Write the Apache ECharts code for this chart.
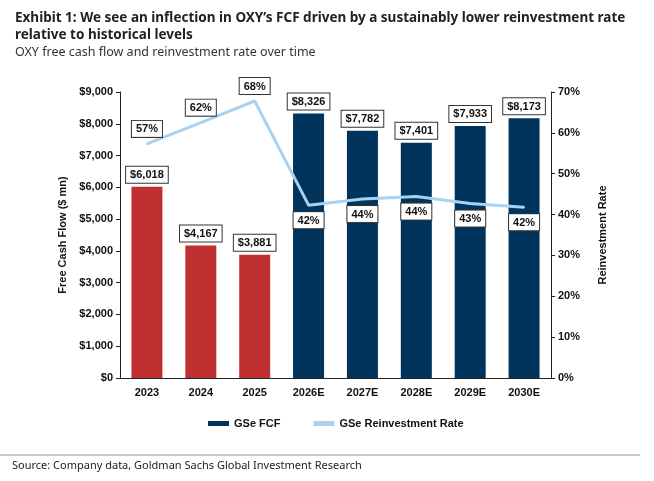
<!DOCTYPE html>
<html>
<head>
<meta charset="utf-8">
<script src="https://cdn.jsdelivr.net/npm/echarts@6/dist/echarts.min.js"></script>
<style>
  html, body { margin: 0; padding: 0; background: #fff; }
  #main { width: 654px; height: 481px; }
</style>
</head>
<body>
<div id="main"></div>
<script>
var years = ['2023', '2024', '2025', '2026E', '2027E', '2028E', '2029E', '2030E'];
var fcf = [6018, 4167, 3881, 8326, 7782, 7401, 7933, 8173];
var reinvest = [57.3, 62.5, 67.8, 42.3, 43.8, 44.4, 42.7, 41.8];
var reinvestLabels = ['57%', '62%', '68%', '42%', '44%', '44%', '43%', '42%'];
var labelAbove = [true, true, true, false, false, false, false, false];
var actualCount = 3;

var chartDom = document.getElementById('main');
var myChart = echarts.init(chartDom);
var option;

var boxLabel = {
    show: true,
    backgroundColor: '#fff',
    borderColor: '#333',
    borderWidth: 1,
    padding: [3, 4, 2, 4],
    color: '#111',
    fontSize: 11,
    fontWeight: 'bold',
    fontFamily: 'Liberation Sans, Arial, sans-serif'
};

option = {
    animation: false,
    textStyle: { fontFamily: 'Liberation Sans, Arial, sans-serif' },
    title: {
        text: 'Exhibit 1: We see an inflection in OXY\u2019s FCF driven by a sustainably lower reinvestment rate\nrelative to historical levels',
        subtext: 'OXY free cash flow and reinvestment rate over time',
        left: 10,
        top: 5,
        itemGap: 2,
        textStyle: {
            fontFamily: 'Noto Sans',
            fontSize: 13.5,
            fontWeight: 'bold',
            color: '#222',
            lineHeight: 17
        },
        subtextStyle: {
            fontFamily: 'Noto Sans',
            fontSize: 12.5,
            color: '#333'
        }
    },
    legend: {
        left: 203,
        top: 413,
        itemWidth: 21,
        itemHeight: 5,
        itemGap: 33,
        textStyle: { fontSize: 11, fontWeight: 'bold', color: '#111' },
        data: [
            { name: 'GSe FCF', icon: 'rect' },
            { name: 'GSe Reinvestment Rate', icon: 'rect' }
        ]
    },
    grid: { left: 120, right: 103, top: 92, bottom: 103 },
    xAxis: {
        type: 'category',
        data: years,
        axisLine: { lineStyle: { color: '#222' } },
        axisTick: { show: false },
        axisLabel: { color: '#111', fontSize: 11, fontWeight: 'bold', margin: 9 }
    },
    yAxis: [
        {
            type: 'value',
            min: 0,
            max: 9000,
            interval: 1000,
            name: 'Free Cash Flow ($ mn)',
            nameLocation: 'middle',
            nameGap: 52,
            nameTextStyle: { fontSize: 11, fontWeight: 'bold', color: '#111' },
            axisLine: { show: true, lineStyle: { color: '#222' } },
            axisTick: { show: true, length: 4, lineStyle: { color: '#222' } },
            splitLine: { show: false },
            axisLabel: {
                color: '#111', fontSize: 11, fontWeight: 'bold', margin: 7,
                formatter: function (v) { return '$' + v.toLocaleString('en-US'); }
            }
        },
        {
            type: 'value',
            min: 0,
            max: 70,
            interval: 10,
            name: 'Reinvestment Rate',
            nameLocation: 'middle',
            nameGap: 46,
            nameTextStyle: { fontSize: 11, fontWeight: 'bold', color: '#111' },
            axisLine: { show: true, lineStyle: { color: '#222' } },
            axisTick: { show: true, length: 4, lineStyle: { color: '#222' } },
            splitLine: { show: false },
            axisLabel: {
                color: '#111', fontSize: 11, fontWeight: 'bold', margin: 7,
                formatter: '{value}%'
            }
        }
    ],
    series: [
        {
            name: 'GSe FCF',
            type: 'bar',
            barWidth: 31,
            itemStyle: { color: '#00345c' },
            data: fcf.map(function (v, i) {
                return i < actualCount ? { value: v, itemStyle: { color: '#c03030' } } : v;
            }),
            label: Object.assign({}, boxLabel, {
                position: 'top',
                distance: 4,
                formatter: function (p) { return '$' + p.value.toLocaleString('en-US'); }
            })
        },
        {
            name: 'GSe Reinvestment Rate',
            type: 'line',
            yAxisIndex: 1,
            symbol: 'circle',
            symbolSize: 2,
            showSymbol: true,
            z: 5,
            color: '#a9d2f0',
            itemStyle: { color: '#a9d2f0' },
            lineStyle: { color: '#a9d2f0', width: 3 },
            data: reinvest.map(function (v, i) {
                return {
                    value: v,
                    label: Object.assign({}, boxLabel, {
                        position: labelAbove[i] ? 'top' : 'bottom',
                        distance: 6,
                        formatter: reinvestLabels[i]
                    })
                };
            }),
            label: Object.assign({}, boxLabel)
        }
    ],
    graphic: [
        {
            type: 'line',
            shape: { x1: 0, y1: 455, x2: 640, y2: 455 },
            style: { stroke: '#bbb', lineWidth: 1.5 }
        },
        {
            type: 'text',
            left: 12,
            top: 460,
            style: {
                text: 'Source: Company data, Goldman Sachs Global Investment Research',
                font: '11px "Noto Sans"',
                fill: '#222'
            }
        }
    ]
};

option && myChart.setOption(option);
</script>
</body>
</html>
